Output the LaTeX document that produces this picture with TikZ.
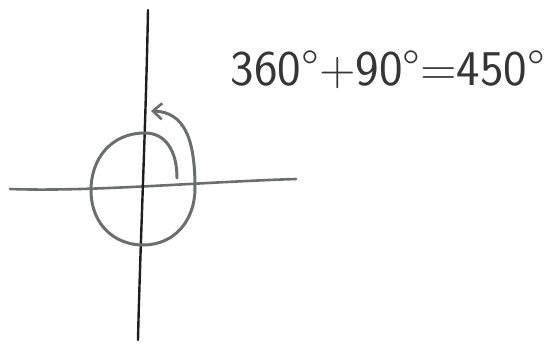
\documentclass[tikz,border=0pt]{standalone}
\usepackage{xcolor}
\usepackage{tikz}
\usetikzlibrary{arrows.meta}

\definecolor{pencil}{HTML}{6B6E6C}
\definecolor{ink}{HTML}{1E1E1E}

\begin{document}
\begin{tikzpicture}[
    x=1pt, y=-1pt,
    axisline/.style={line width=2.6pt, pencil, line cap=round},
    vertline/.style={line width=2.4pt, ink, line cap=round},
    turn/.style={line width=3pt, pencil, line cap=round, -{Straight Barb[length=9pt, width=16pt, line width=2.6pt]}},
    sum/.style={font=\fontsize{50}{58}\selectfont\sffamily, text=ink!90, inner sep=0pt},
]

% === FRAME ===
\useasboundingbox (0,0) rectangle (553,343);

% === AXES ===
\draw[axisline] (10,189) .. controls (90,192) and (200,182) .. (296,179);
\draw[vertline] (148,10) .. controls (146,120) and (140,250) .. (138,340);

% === SPIRAL ===
\draw[turn] (177,178)
    .. controls (177,150) and (165,133) .. (145,133)
    .. controls (110,133) and (91,160) .. (91,190)
    .. controls (91,225) and (115,245) .. (143,245)
    .. controls (175,245) and (195,220) .. (195,188)
    .. controls (195,140) and (185,112) .. (151,111);

% === LABEL ===
\node[sum] (eq) at (388,70) {360°+90°=450°};

\end{tikzpicture}
\end{document}
